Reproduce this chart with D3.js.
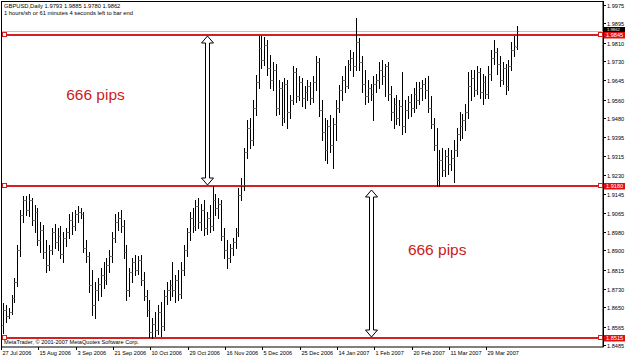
<!DOCTYPE html>
<html>
<head>
<meta charset="utf-8">
<script src="https://cdn.jsdelivr.net/npm/d3@7"></script>
<style>
  body { margin: 0; background: #fff; }
  svg { display: block; font-family: "Liberation Sans", Arial, sans-serif; }
</style>
</head>
<body>
<div id="chart"></div>
<script>
// GBPUSD daily bars (one value per bar)
var opens = [1.8573,1.8639,1.8613,1.8630,1.8692,1.8762,1.8902,1.9055,1.9121,1.9077,
  1.9121,1.9033,1.9068,1.8946,1.8990,1.8893,1.8836,1.8902,1.8981,1.8937,
  1.8963,1.8884,1.8955,1.8981,1.9033,1.9007,1.9060,1.9068,1.9060,1.8911,
  1.8876,1.8749,1.8661,1.8727,1.8753,1.8792,1.8771,1.8836,1.8876,1.8955,
  1.9025,1.9042,1.9007,1.8893,1.8727,1.8806,1.8849,1.8814,1.8858,1.8771,
  1.8701,1.8639,1.8543,1.8578,1.8552,1.8630,1.8569,1.8701,1.8727,1.8749,
  1.8727,1.8771,1.8709,1.8814,1.8902,1.8981,1.9042,1.9007,1.9095,1.9025,
  1.9077,1.8998,1.9042,1.9007,1.9121,1.9086,1.9103,1.8963,1.8902,1.8867,
  1.8911,1.8937,1.8981,1.9143,1.9187,1.9331,1.9436,1.9384,1.9524,1.9638,
  1.9787,1.9734,1.9800,1.9699,1.9647,1.9690,1.9524,1.9612,1.9480,1.9629,
  1.9506,1.9559,1.9682,1.9577,1.9638,1.9568,1.9594,1.9620,1.9568,1.9638,
  1.9725,1.9515,1.9419,1.9340,1.9445,1.9362,1.9454,1.9524,1.9603,1.9647,
  1.9620,1.9717,1.9743,1.9708,1.9813,1.9725,1.9629,1.9577,1.9612,1.9585,
  1.9629,1.9647,1.9690,1.9664,1.9708,1.9585,1.9506,1.9541,1.9480,1.9533,
  1.9445,1.9515,1.9550,1.9524,1.9585,1.9559,1.9612,1.9629,1.9603,1.9524,
  1.9454,1.9362,1.9209,1.9296,1.9252,1.9314,1.9279,1.9305,1.9340,1.9410,
  1.9445,1.9471,1.9506,1.9620,1.9655,1.9603,1.9682,1.9594,1.9638,1.9585,
  1.9673,1.9743,1.9769,1.9717,1.9647,1.9699,1.9620,1.9708,1.9778,1.9793];
var highs = [1.8670,1.8661,1.8648,1.8705,1.8779,1.8924,1.9077,1.9139,1.9139,1.9147,
  1.9130,1.9099,1.9086,1.9025,1.9011,1.8946,1.8924,1.8998,1.9016,1.8998,
  1.9007,1.8981,1.8998,1.9060,1.9068,1.9077,1.9095,1.9086,1.9068,1.8946,
  1.8893,1.8814,1.8762,1.8779,1.8823,1.8849,1.8867,1.8902,1.8981,1.9060,
  1.9068,1.9077,1.9033,1.8924,1.8823,1.8867,1.8880,1.8876,1.8880,1.8806,
  1.8727,1.8683,1.8604,1.8630,1.8661,1.8674,1.8727,1.8762,1.8771,1.8849,
  1.8792,1.8814,1.8849,1.8924,1.8998,1.9068,1.9086,1.9121,1.9130,1.9103,
  1.9121,1.9068,1.9099,1.9180,1.9147,1.9130,1.9121,1.8998,1.8946,1.8928,
  1.8955,1.8998,1.9174,1.9217,1.9349,1.9471,1.9480,1.9559,1.9668,1.9839,
  1.9839,1.9835,1.9822,1.9756,1.9725,1.9717,1.9647,1.9638,1.9655,1.9647,
  1.9581,1.9708,1.9699,1.9664,1.9655,1.9620,1.9647,1.9638,1.9664,1.9752,
  1.9743,1.9559,1.9480,1.9471,1.9493,1.9480,1.9559,1.9625,1.9664,1.9708,
  1.9734,1.9778,1.9769,1.9918,1.9831,1.9752,1.9690,1.9647,1.9629,1.9664,
  1.9673,1.9725,1.9734,1.9717,1.9725,1.9620,1.9568,1.9581,1.9559,1.9682,
  1.9559,1.9577,1.9585,1.9612,1.9638,1.9638,1.9647,1.9655,1.9664,1.9577,
  1.9480,1.9436,1.9340,1.9349,1.9340,1.9349,1.9340,1.9384,1.9436,1.9506,
  1.9498,1.9541,1.9682,1.9690,1.9690,1.9708,1.9699,1.9673,1.9664,1.9708,
  1.9778,1.9822,1.9787,1.9752,1.9725,1.9717,1.9734,1.9813,1.9839,1.9885];
var lows = [1.8538,1.8587,1.8604,1.8622,1.8674,1.8744,1.8876,1.9025,1.9055,1.9051,
  1.9011,1.8981,1.8924,1.8893,1.8867,1.8806,1.8814,1.8884,1.8911,1.8902,
  1.8867,1.8849,1.8920,1.8955,1.8972,1.8990,1.9025,1.9042,1.8893,1.8849,
  1.8718,1.8617,1.8604,1.8683,1.8701,1.8736,1.8753,1.8806,1.8849,1.8937,
  1.8990,1.8981,1.8867,1.8683,1.8701,1.8762,1.8792,1.8797,1.8749,1.8683,
  1.8613,1.8521,1.8517,1.8525,1.8534,1.8525,1.8552,1.8665,1.8683,1.8701,
  1.8674,1.8683,1.8692,1.8792,1.8876,1.8946,1.8981,1.8990,1.8998,1.8990,
  1.8968,1.8972,1.8981,1.8990,1.9055,1.9042,1.8946,1.8867,1.8823,1.8849,
  1.8880,1.8911,1.8963,1.9121,1.9165,1.9305,1.9349,1.9362,1.9493,1.9612,
  1.9699,1.9712,1.9668,1.9612,1.9603,1.9493,1.9498,1.9449,1.9463,1.9436,
  1.9480,1.9541,1.9550,1.9559,1.9533,1.9524,1.9559,1.9541,1.9550,1.9603,
  1.9489,1.9384,1.9296,1.9283,1.9331,1.9261,1.9384,1.9506,1.9559,1.9594,
  1.9612,1.9690,1.9664,1.9690,1.9690,1.9594,1.9541,1.9550,1.9559,1.9471,
  1.9594,1.9612,1.9629,1.9577,1.9559,1.9471,1.9436,1.9454,1.9449,1.9410,
  1.9419,1.9480,1.9489,1.9506,1.9524,1.9541,1.9559,1.9568,1.9506,1.9436,
  1.9340,1.9180,1.9182,1.9226,1.9226,1.9235,1.9252,1.9200,1.9314,1.9384,
  1.9393,1.9428,1.9480,1.9559,1.9577,1.9585,1.9568,1.9541,1.9568,1.9568,
  1.9647,1.9717,1.9673,1.9620,1.9629,1.9585,1.9603,1.9690,1.9752,1.9780];
var closes = [1.8639,1.8613,1.8630,1.8692,1.8762,1.8902,1.9055,1.9121,1.9077,1.9121,
  1.9033,1.9068,1.8946,1.8990,1.8893,1.8836,1.8902,1.8981,1.8937,1.8963,
  1.8884,1.8955,1.8981,1.9033,1.9007,1.9060,1.9068,1.9060,1.8911,1.8876,
  1.8749,1.8661,1.8727,1.8753,1.8792,1.8771,1.8836,1.8876,1.8955,1.9025,
  1.9042,1.9007,1.8893,1.8727,1.8806,1.8849,1.8814,1.8858,1.8771,1.8701,
  1.8639,1.8543,1.8578,1.8552,1.8630,1.8569,1.8701,1.8727,1.8749,1.8727,
  1.8771,1.8709,1.8814,1.8902,1.8981,1.9042,1.9007,1.9095,1.9025,1.9077,
  1.8998,1.9042,1.9007,1.9121,1.9086,1.9103,1.8963,1.8902,1.8867,1.8911,
  1.8937,1.8981,1.9143,1.9187,1.9331,1.9436,1.9384,1.9524,1.9638,1.9787,
  1.9734,1.9800,1.9699,1.9647,1.9690,1.9524,1.9612,1.9480,1.9629,1.9506,
  1.9559,1.9682,1.9577,1.9638,1.9568,1.9594,1.9620,1.9568,1.9638,1.9725,
  1.9515,1.9419,1.9340,1.9445,1.9362,1.9454,1.9524,1.9603,1.9647,1.9620,
  1.9717,1.9743,1.9708,1.9813,1.9725,1.9629,1.9577,1.9612,1.9585,1.9629,
  1.9647,1.9690,1.9664,1.9708,1.9585,1.9506,1.9541,1.9480,1.9533,1.9445,
  1.9515,1.9550,1.9524,1.9585,1.9559,1.9612,1.9629,1.9603,1.9524,1.9454,
  1.9362,1.9209,1.9296,1.9252,1.9314,1.9279,1.9305,1.9340,1.9410,1.9445,
  1.9471,1.9506,1.9620,1.9655,1.9603,1.9682,1.9594,1.9638,1.9585,1.9673,
  1.9743,1.9769,1.9717,1.9647,1.9699,1.9620,1.9708,1.9778,1.9795,1.9862];

// date labels on the time axis and the bar each one sits on
var dateLabels = ["27 Jul 2006","15 Aug 2006","3 Sep 2006","21 Sep 2006","10 Oct 2006","29 Oct 2006",
  "16 Nov 2006","5 Dec 2006","25 Dec 2006","14 Jan 2007","1 Feb 2007","20 Feb 2007","11 Mar 2007","29 Mar 2007"];
var dateBars = [0,13,26,39,52,65,78,91,104,117,130,143,156,169];

// price scale labels
var priceTicks = [1.9975,1.9895,1.9810,1.9730,1.9645,1.9560,1.9480,1.9395,1.9315,1.9230,
  1.9145,1.9065,1.8980,1.8900,1.8815,1.8730,1.8650,1.8565,1.8485];

// horizontal levels, bid line, arrows and notes
var levels = [1.9845, 1.9180, 1.8515];
var bid = 1.9862;
var arrowBars = [71, 128];
var arrowFrom = [1.9840, 1.9165];
var arrowTo = [1.9185, 1.8520];
var noteText = ["666 pips", "666 pips"];
var noteBars = [22, 141];
var notePrice = [1.9560, 1.8880];
var header = ["GBPUSD,Daily  1.9793 1.9885 1.9780 1.9862",
  "1 hours/sh or 61 minutes 4 seconds left to bar end"];
var copyright = "MetaTrader, \u00a9 2001-2007 MetaQuotes Software Corp.";

var width = 625, height = 358;
var plotRight = 603, plotBottom = 347;

var svg = d3.select("#chart").append("svg")
  .attr("width", width).attr("height", height);

svg.append("rect").attr("width", width).attr("height", height).attr("fill", "#fff");

var x = d3.scaleLinear().domain([0, 179]).range([3, 517]);
var y = d3.scaleLinear().domain([1.8485, 1.9975]).range([345, 5]);

var px = function(v){ return Math.round(v) + 0.5; };

// frame
svg.append("rect")
  .attr("x", 1.5).attr("y", 1.5)
  .attr("width", plotRight - 1.5).attr("height", plotBottom - 1.5)
  .attr("fill", "none").attr("stroke", "#000");

// bid line
svg.append("line")
  .attr("x1", 2).attr("x2", plotRight)
  .attr("y1", px(y(bid))).attr("y2", px(y(bid)))
  .attr("stroke", "#b8c4d0");

// level lines
var lv = svg.append("g");
levels.forEach(function(p){
  var yy = Math.round(y(p));
  lv.append("line").attr("x1", 2).attr("x2", plotRight)
    .attr("y1", yy).attr("y2", yy)
    .attr("stroke", "#d42020").attr("stroke-width", 2);
  lv.append("rect").attr("x", 2.5).attr("y", yy - 2.5).attr("width", 4).attr("height", 4)
    .attr("fill", "#fff").attr("stroke", "#d42020");
  lv.append("rect").attr("x", 598.5).attr("y", yy - 2.5).attr("width", 4).attr("height", 4)
    .attr("fill", "#fff").attr("stroke", "#d42020");
});

// OHLC bars
var idx = d3.range(closes.length);
var bars = svg.append("g").attr("stroke", "#000").attr("stroke-width", 1);
idx.forEach(function(i){
  var bx = px(x(i));
  bars.append("line").attr("x1", bx).attr("x2", bx)
    .attr("y1", Math.round(y(highs[i]))).attr("y2", Math.round(y(lows[i])) + 1);
  bars.append("line").attr("x1", bx - 1.5).attr("x2", bx)
    .attr("y1", px(y(opens[i]))).attr("y2", px(y(opens[i])))
    .attr("stroke", "#777");
  bars.append("line").attr("x1", bx).attr("x2", bx + 1.5)
    .attr("y1", px(y(closes[i]))).attr("y2", px(y(closes[i])))
    .attr("stroke", "#777");
});

// hollow double arrows
arrowBars.forEach(function(b, k){
  var cx = px(x(b)), y1 = Math.round(y(arrowFrom[k])), y2 = Math.round(y(arrowTo[k]));
  var d = "M" + cx + "," + y1 +
    " L" + (cx + 6) + "," + (y1 + 7) + " L" + (cx + 2) + "," + (y1 + 7) +
    " L" + (cx + 2) + "," + (y2 - 7) + " L" + (cx + 6) + "," + (y2 - 7) +
    " L" + cx + "," + y2 +
    " L" + (cx - 6) + "," + (y2 - 7) + " L" + (cx - 2) + "," + (y2 - 7) +
    " L" + (cx - 2) + "," + (y1 + 7) + " L" + (cx - 6) + "," + (y1 + 7) + " Z";
  svg.append("path").attr("d", d).attr("fill", "#fff").attr("stroke", "#000");
});

// red notes
noteText.forEach(function(t, k){
  svg.append("text").attr("x", x(noteBars[k])).attr("y", y(notePrice[k]))
    .attr("font-size", 15.5).attr("fill", "#cc1a1a").text(t);
});

// price axis
var ax = svg.append("g").attr("font-size", 5.6);
ax.append("line").attr("x1", px(plotRight)).attr("x2", px(plotRight))
  .attr("y1", 1).attr("y2", plotBottom).attr("stroke", "#000");
priceTicks.forEach(function(p){
  var yy = px(y(p));
  ax.append("line").attr("x1", plotRight).attr("x2", plotRight + 3)
    .attr("y1", yy).attr("y2", yy).attr("stroke", "#000");
  ax.append("text").attr("x", 607).attr("y", yy + 2).text(d3.format(".4f")(p));
});

// price tags on the axis: red level tags, small black bid tag above
levels.forEach(function(p){
  var yy = Math.round(y(p));
  ax.append("rect").attr("x", 604).attr("y", yy - 3).attr("width", 21).attr("height", 6.5)
    .attr("fill", "#e01010");
  ax.append("text").attr("x", 606).attr("y", yy + 2).attr("fill", "#fff")
    .text(d3.format(".4f")(p));
});
var by = Math.round(y(bid));
ax.append("rect").attr("x", 604).attr("y", by - 4).attr("width", 21).attr("height", 5)
  .attr("fill", "#000");
ax.append("text").attr("x", 607).attr("y", by + 0.3).attr("font-size", 4.2).attr("fill", "#fff")
  .text(d3.format(".4f")(bid));

// time axis
var tx = svg.append("g").attr("font-size", 5.6);
dateBars.forEach(function(b, k){
  var xx = px(x(b)) - 2;
  tx.append("line").attr("x1", xx).attr("x2", xx)
    .attr("y1", plotBottom).attr("y2", plotBottom + 3).attr("stroke", "#000");
  tx.append("text").attr("x", xx + 1).attr("y", 355).text(dateLabels[k]);
});

// header and footer texts
svg.append("g").attr("font-size", 5.8).selectAll("text").data(header).enter()
  .append("text").attr("x", 4).attr("y", function(d, i){ return 8 + i * 7; }).text(function(d){ return d; });
svg.append("text").attr("x", 4).attr("y", 344).attr("font-size", 5.6).text(copyright);
</script>
</body>
</html>
